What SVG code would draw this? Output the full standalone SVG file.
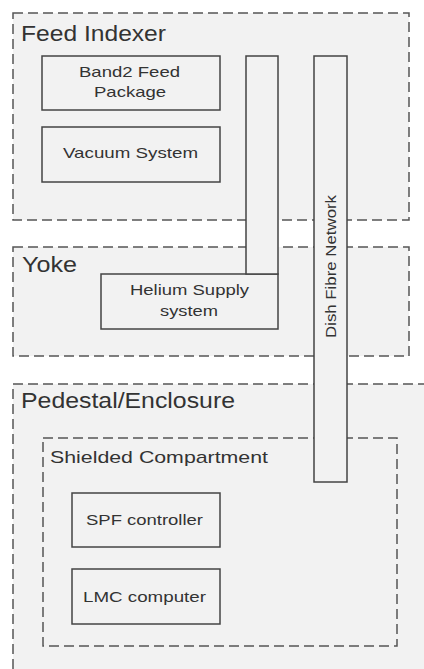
<svg xmlns="http://www.w3.org/2000/svg" width="424" height="669" viewBox="0 0 424 669">
<style>
.cont{fill:#f2f2f2;stroke:#555;stroke-width:1.5;stroke-dasharray:10 5}
.box{fill:#f2f2f2;stroke:#444;stroke-width:1.5}
.t{font-family:"Liberation Sans",Arial,sans-serif;fill:#333}
.big{font-size:22px}
.sm{font-size:15px}
</style>
<rect width="424" height="669" fill="#ffffff"/>
<g id="feed-indexer">
<rect class="cont" x="13" y="13" width="396" height="207"/>
<text class="t big" x="21" y="41" textLength="145" lengthAdjust="spacingAndGlyphs">Feed Indexer</text>
</g>
<g id="yoke">
<rect class="cont" x="13" y="247" width="396" height="109"/>
<text class="t big" x="22" y="272" textLength="55" lengthAdjust="spacingAndGlyphs">Yoke</text>
</g>
<g id="pedestal">
<rect class="cont" x="13" y="384" width="420" height="300"/>
<text class="t big" x="21" y="408" textLength="214" lengthAdjust="spacingAndGlyphs">Pedestal/Enclosure</text>
</g>
<g id="shielded">
<rect class="cont" x="43" y="438" width="354" height="208"/>
<text class="t" style="font-size:17px" x="50" y="463" textLength="218" lengthAdjust="spacingAndGlyphs">Shielded  Compartment</text>
</g>
<g id="band2">
<rect class="box" x="42" y="56" width="178" height="54"/>
<text class="t sm" x="79" y="77" textLength="101" lengthAdjust="spacingAndGlyphs">Band2 Feed</text>
<text class="t sm" x="94" y="97" textLength="72" lengthAdjust="spacingAndGlyphs">Package</text>
</g>
<g id="vacuum">
<rect class="box" x="42" y="127" width="178" height="55"/>
<text class="t sm" x="63" y="158" textLength="135" lengthAdjust="spacingAndGlyphs">Vacuum System</text>
</g>
<g id="helium">
<rect class="box" x="101" y="274" width="177" height="55"/>
<text class="t sm" x="130" y="295" textLength="119" lengthAdjust="spacingAndGlyphs">Helium Supply</text>
<text class="t sm" x="160" y="316" textLength="58" lengthAdjust="spacingAndGlyphs">system</text>
</g>
<g id="spf">
<rect class="box" x="72" y="493" width="148" height="54"/>
<text class="t sm" x="86" y="525" textLength="117" lengthAdjust="spacingAndGlyphs">SPF controller</text>
</g>
<g id="lmc">
<rect class="box" x="72" y="569" width="148" height="55"/>
<text class="t sm" x="83" y="602" textLength="123" lengthAdjust="spacingAndGlyphs">LMC computer</text>
</g>
<g id="connectors">
<rect class="box" x="246" y="56" width="32" height="218"/>
<rect class="box" x="314" y="56" width="33" height="426"/>
<text class="t sm" transform="translate(336,338) rotate(-90)" x="0" y="0" textLength="143" lengthAdjust="spacingAndGlyphs">Dish Fibre Network</text>
</g>
</svg>
